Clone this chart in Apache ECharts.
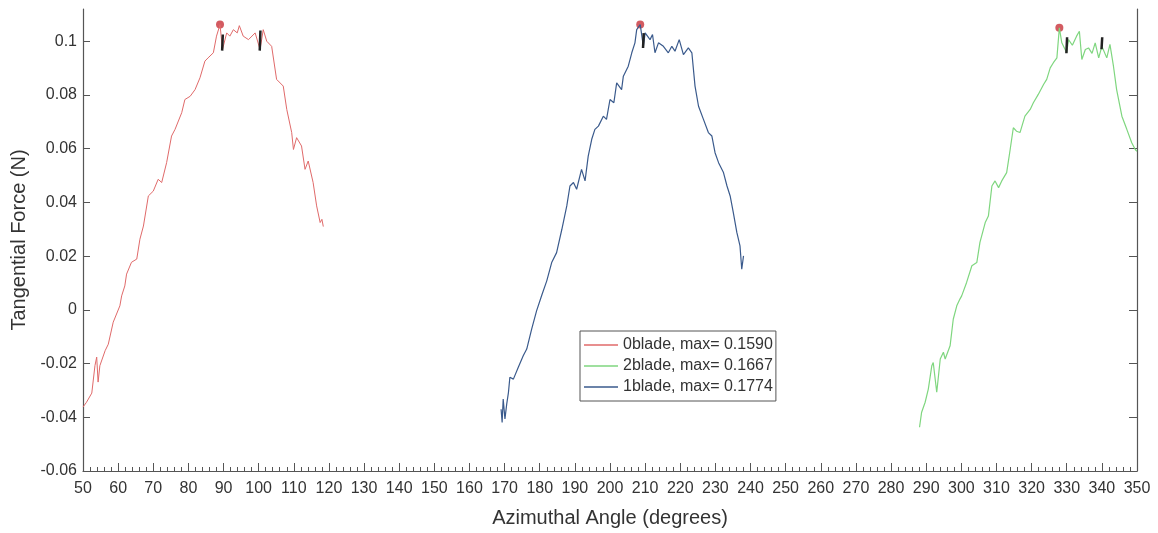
<!DOCTYPE html>
<html>
<head>
    <meta charset="utf-8" />
    <title>Tangential Force</title>
    <script src="https://cdn.jsdelivr.net/npm/echarts@6.0.0/dist/echarts.min.js"></script>
</head>
<body style="margin:0">
    <style>
        #main { width: 1158px; height: 533px; }
    </style>
    <div id="main"></div>
    <script type="text/javascript">
        // [azimuthal angle (deg), tangential force (N)]
        var blade0 = [[50.0,-0.0362],[51.0,-0.0344],[52.5,-0.031],[53.4,-0.0208],[53.9,-0.0176],[54.3,-0.0269],[54.8,-0.0208],
            [56.3,-0.0152],[57.2,-0.0128],[58.6,-0.0046],[60.5,0.0015],[61.0,0.0052],[61.9,0.0089],[62.4,0.0133],[63.8,0.0177],
            [65.3,0.0189],[66.2,0.0263],[67.2,0.0312],[68.6,0.0424],[70.0,0.0442],[71.4,0.0486],[72.4,0.0474],[73.8,0.0548],
            [75.2,0.0647],[76.2,0.0672],[78.1,0.0734],[79.0,0.0783],[80.5,0.0795],[81.9,0.082],[83.3,0.0864],[84.7,0.0926],
            [85.6,0.0938],[87.1,0.0957],[88.0,0.1019],[89.0,0.1062],[89.7,0.0969],[90.9,0.1031],[91.8,0.1019],[92.8,0.1043],
            [93.9,0.1031],[94.5,0.1058],[95.6,0.1019],[97.1,0.1006],[99.0,0.1031],[100.4,0.0969],[101.3,0.1043],[102.3,0.1],
            [103.7,0.0981],[105.1,0.0858],[107.0,0.0833],[108.0,0.0746],[109.4,0.066],[109.9,0.0597],[110.8,0.0641],[112.2,0.061],
            [113.2,0.0523],[114.1,0.0554],[115.5,0.0474],[116.5,0.0387],[117.5,0.0325],[118.0,0.0337],[118.4,0.031]];
        var blade1 = [[169.0,-0.037],[169.3,-0.0419],[169.6,-0.0332],[170.1,-0.0406],[170.6,-0.0351],[171.1,-0.0307],[171.5,-0.0251],
            [172.5,-0.0258],[173.9,-0.0214],[175.3,-0.0171],[176.3,-0.0146],[177.7,-0.0072],[179.1,-0.0004],[180.6,0.0055],
            [182.0,0.0108],[183.4,0.0176],[184.8,0.0213],[186.3,0.03],[187.7,0.0387],[188.6,0.0461],[189.6,0.0474],[190.5,0.0449],
            [191.9,0.0523],[192.9,0.048],[193.8,0.0572],[194.8,0.0635],[195.7,0.0672],[196.7,0.0684],[198.1,0.0721],[199.0,0.0709],
            [200.0,0.0783],[201.1,0.0771],[201.9,0.0845],[203.3,0.082],[203.8,0.087],[205.2,0.0907],[206.2,0.0957],[207.1,0.0994],
            [207.6,0.1043],[208.6,0.1062],[209.5,0.0981],[210.0,0.1031],[211.4,0.1006],[212.1,0.1025],[212.8,0.0957],[213.8,0.0994],
            [215.2,0.0981],[216.6,0.0957],[217.6,0.0981],[218.5,0.0963],[219.7,0.1006],[220.9,0.095],[222.3,0.0975],[223.3,0.0957],
            [224.2,0.0833],[225.2,0.0758],[226.6,0.0709],[228.0,0.066],[229.0,0.0647],[229.9,0.0585],[230.9,0.0548],[232.3,0.0511],
            [233.3,0.0461],[234.2,0.0424],[235.1,0.0362],[236.1,0.0288],[237.0,0.0238],[237.5,0.0151],[238.0,0.0201]];
        var blade2 = [[288.1,-0.0437],[288.7,-0.0381],[289.7,-0.0344],[290.6,-0.0295],[291.6,-0.0208],[292.0,-0.0196],[293.0,-0.0307],
            [294.0,-0.0183],[294.9,-0.0158],[295.4,-0.0183],[296.8,-0.0134],[297.7,-0.0035],[298.7,0.0015],[299.6,0.004],[300.1,0.0052],
            [301.5,0.0102],[303.0,0.0164],[304.4,0.0176],[305.3,0.0251],[306.8,0.0325],[307.7,0.0349],[308.7,0.0461],[309.6,0.048],
            [310.6,0.0455],[311.5,0.048],[312.9,0.0511],[313.9,0.0597],[314.8,0.0678],[315.7,0.0665],[316.7,0.066],[318.1,0.0721],
            [319.6,0.0746],[320.5,0.0771],[321.9,0.0802],[323.4,0.0839],[324.3,0.0858],[325.3,0.0901],[326.2,0.092],[327.2,0.0938],
            [327.9,0.105],[328.6,0.0994],[330.0,0.0957],[330.5,0.1006],[331.6,0.0985],[332.8,0.1019],[333.6,0.1037],[334.3,0.0932],
            [335.3,0.0969],[336.2,0.0975],[337.2,0.0955],[338.1,0.0994],[339.1,0.0938],[340.0,0.0981],[341.4,0.0938],[342.3,0.0988],
            [343.3,0.0907],[344.2,0.082],[345.7,0.0721],[347.1,0.0672],[348.5,0.0622],[349.5,0.0597],[350.0,0.059]];
        var peaks = [[89.0,0.1062],[208.6,0.1062],[327.9,0.105]];
        // short black strokes on the plateaus, null breaks the line between them
        var blackMarks = [[89.6,0.0965],[89.8,0.1025],null,[100.3,0.0965],[100.5,0.104],null,
            [209.4,0.0975],[209.6,0.103],null,[329.9,0.0955],[330.1,0.1015],null,[339.9,0.097],[340.1,0.1015]];
        var legendNames = ['0blade, max= 0.1590', '2blade, max= 0.1667', '1blade, max= 0.1774'];
        var yTicks = [-0.06, -0.04, -0.02, 0, 0.02, 0.04, 0.06, 0.08, 0.1];

        var font = 'Liberation Sans, Arial, sans-serif';
        var axisColor = '#555';
        var myChart = echarts.init(document.getElementById('main'));
        var option = {
            animation: false,
            backgroundColor: '#fff',
            grid: { left: 83, right: 21, top: 9, bottom: 61 },
            legend: {
                data: legendNames,
                orient: 'vertical',
                left: 580,
                top: 331,
                padding: [6, 3, 6, 4],
                itemGap: 5,
                itemWidth: 34,
                itemHeight: 1.5,
                icon: 'rect',
                borderColor: '#555',
                borderWidth: 1,
                textStyle: { fontFamily: font, fontSize: 16, color: '#333' }
            },
            xAxis: {
                type: 'value',
                min: 50,
                max: 350,
                interval: 10,
                name: 'Azimuthal Angle (degrees)',
                nameLocation: 'middle',
                nameGap: 37,
                nameTextStyle: { fontFamily: font, fontSize: 20, color: '#333' },
                axisLine: { onZero: false, lineStyle: { color: axisColor, width: 1.2 } },
                axisTick: { inside: true, length: 8, lineStyle: { color: axisColor } },
                minorTick: { show: true, splitNumber: 5, length: 4, lineStyle: { color: axisColor } },
                axisLabel: { fontFamily: font, fontSize: 16, color: '#333', margin: 10 },
                splitLine: { show: false }
            },
            yAxis: [
                {
                    type: 'value',
                    min: -0.06,
                    max: 0.112,
                    name: 'Tangential Force (N)',
                    nameLocation: 'middle',
                    nameGap: 50,
                    nameTextStyle: { fontFamily: font, fontSize: 20, color: '#333' },
                    axisLine: { show: true, onZero: false, lineStyle: { color: axisColor, width: 1.2 } },
                    axisTick: { show: true, inside: true, length: 7, customValues: yTicks, lineStyle: { color: axisColor } },
                    axisLabel: { fontFamily: font, fontSize: 16, color: '#333', margin: 6, customValues: yTicks },
                    splitLine: { show: false }
                },
                {
                    type: 'value',
                    position: 'right',
                    min: -0.06,
                    max: 0.112,
                    axisLine: { show: true, onZero: false, lineStyle: { color: axisColor, width: 1.2 } },
                    axisTick: { show: true, inside: true, length: 8, customValues: yTicks, lineStyle: { color: axisColor } },
                    axisLabel: { show: false },
                    splitLine: { show: false }
                }
            ],
            series: [
                {
                    name: legendNames[0], type: 'line', data: blade0, showSymbol: false,
                    itemStyle: { color: '#e06a6a' }, lineStyle: { color: '#e06a6a', width: 1 }
                },
                {
                    name: legendNames[1], type: 'line', data: blade2, showSymbol: false,
                    itemStyle: { color: '#7fd67f' }, lineStyle: { color: '#7fd67f', width: 1.2 }
                },
                {
                    name: legendNames[2], type: 'line', data: blade1, showSymbol: false,
                    itemStyle: { color: '#3a5a8c' }, lineStyle: { color: '#3a5a8c', width: 1.2 }
                },
                {
                    type: 'line', data: blackMarks, showSymbol: false, connectNulls: false,
                    lineStyle: { color: '#222', width: 2.5 }, silent: true
                },
                {
                    type: 'scatter', data: peaks, symbol: 'circle', symbolSize: 8,
                    itemStyle: { color: '#c8323a' }, silent: true
                }
            ]
        };
        myChart.setOption(option);
    </script>
</body>
</html>
